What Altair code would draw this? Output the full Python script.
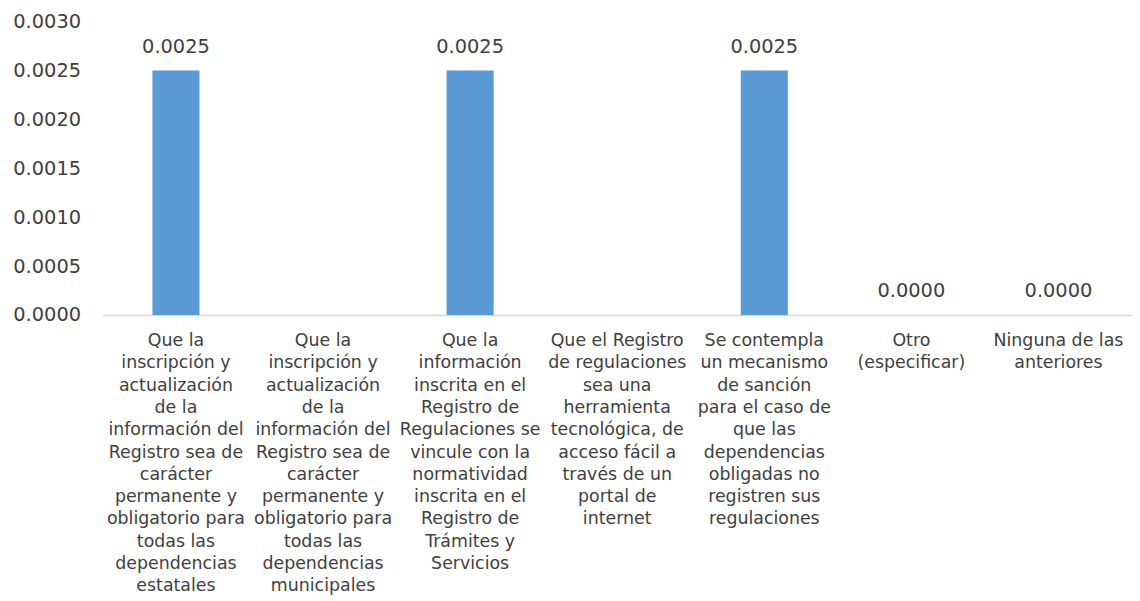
import altair as alt
import pandas as pd

categories = [
    "Que la|inscripción y|actualización|de la|información del|Registro sea de|carácter|permanente y|obligatorio para|todas las|dependencias|estatales",
    "Que la|inscripción y|actualización|de la|información del|Registro sea de|carácter|permanente y|obligatorio para|todas las|dependencias|municipales",
    "Que la|información|inscrita en el|Registro de|Regulaciones se|vincule con la|normatividad|inscrita en el|Registro de|Trámites y|Servicios",
    "Que el Registro|de regulaciones|sea una|herramienta|tecnológica, de|acceso fácil a|través de un|portal de|internet",
    "Se contempla|un mecanismo|de sanción|para el caso de|que las|dependencias|obligadas no|registren sus|regulaciones",
    "Otro|(especificar)",
    "Ninguna de las|anteriores",
]
values = [0.0025, None, 0.0025, None, 0.0025, 0.0, 0.0]

df = pd.DataFrame({"cat": categories, "val": values})

FONT = "DejaVu Sans"
TXT = "#404040"

x = alt.X("cat:N", sort=categories, title=None,
          scale=alt.Scale(paddingInner=0.68, paddingOuter=0.34),
          axis=alt.Axis(labelAngle=0, labelExpr="split(datum.label, '|')",
                        labelLimit=0, labelFontSize=17.5, labelLineHeight=22.4,
                        labelColor=TXT, labelFont=FONT, labelPadding=17,
                        labelBaseline="top",
                        ticks=False, domainColor="#D9D9D9", domainWidth=1.5))
y = alt.Y("val:Q", title=None,
          scale=alt.Scale(domain=[0, 0.003], nice=False),
          axis=alt.Axis(values=[0, 0.0005, 0.001, 0.0015, 0.002, 0.0025, 0.003],
                        format=".4f", grid=False, domain=False, ticks=False,
                        labelFontSize=19.5, labelColor=TXT, labelFont=FONT,
                        labelPadding=22))

bars = alt.Chart(df).mark_bar(color="#5B9BD5").encode(x=x, y=y)
text = alt.Chart(df).transform_filter("isValid(datum.val)").mark_text(
    dy=-14, baseline="bottom", fontSize=19.5, font=FONT, color=TXT
).encode(x=alt.X("cat:N", sort=categories), y="val:Q", text=alt.Text("val:Q", format=".4f"))

chart = alt.layer(bars, text).properties(
    width=1036, height=295,
    autosize=alt.AutoSizeParams(type="none"),
    padding={"left": 95, "top": 12, "right": 0, "bottom": 280},
).configure_view(stroke=None)

chart.save("out.html", embed_options={"renderer": "svg", "actions": False})
